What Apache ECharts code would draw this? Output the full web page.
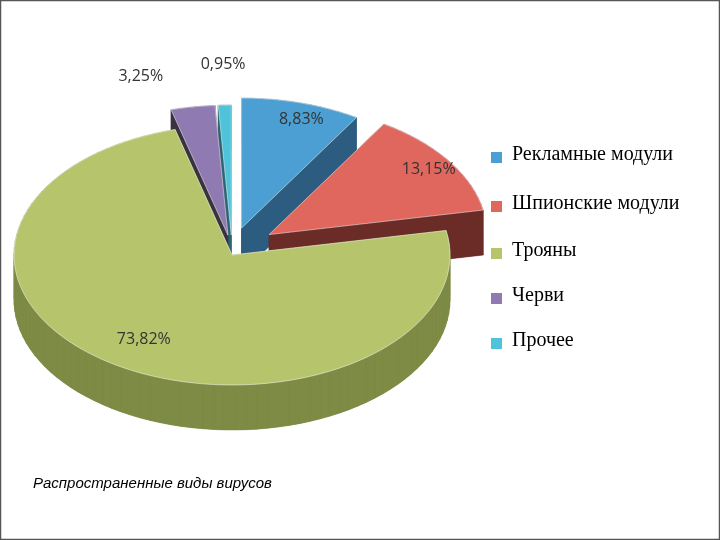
<!DOCTYPE html>
<html>
  <head>
    <meta charset="utf-8">
    <title>ECharts</title>
    <script src="https://cdn.jsdelivr.net/npm/echarts@6/dist/echarts.min.js"></script>
    <style>
      body { margin: 0; background: #fff; }
    </style>
  </head>
  <body>
    <div id="main" style="width: 720px;height:540px;"></div>
    <script type="text/javascript">
      // данные
      var categories = ['Рекламные модули', 'Шпионские модули', 'Трояны', 'Черви', 'Прочее'];
      var values = [8.83, 13.15, 73.82, 3.25, 0.95];

      var topColors = ['#4b9fd2', '#e0675e', '#b6c46c', '#8f7ab2', '#4fc3da'];
      var sideColors = ['#2c5d80', '#6b2b26', '#7d8b45', '#38333f', '#2a6676'];
      var explode = [35, 45, 0, 25, 25];
      // [радиус, dx, dy] для подписи
      var labelPos = [[0.75, 15, -15], [0.75, 25, -10], [0.72, -5, 5], [1.2, -45, -5], [1.25, 0, -8]];

      var cx = 232, cy = 255, rx = 218, ry = 130, depth = 45;
      var total = values.reduce(function (a, b) { return a + b }, 0);

      function fmt(v) { return v.toFixed(2).replace('.', ',') + '%' }

      var myChart = echarts.init(document.getElementById('main'));

      function renderItem(params, api) {
        var i = params.dataIndex;
        var start = 0;
        for (var k = 0; k < i; k++) start += values[k];
        var a0 = start / total * Math.PI * 2;
        var a1 = (start + api.value(1)) / total * Math.PI * 2;
        var mid = (a0 + a1) / 2;
        var ox = cx + Math.sin(mid) * explode[i];
        var oy = cy - Math.cos(mid) * explode[i] * 0.8;

        var pts = [[ox, oy]];
        var n = Math.max(4, Math.ceil((a1 - a0) / 0.05));
        for (var s = 0; s <= n; s++) {
          var a = a0 + (a1 - a0) * s / n;
          pts.push([ox + rx * Math.sin(a), oy - ry * Math.cos(a)]);
        }
        var base = (2 - Math.cos(mid)) * 1000;
        var children = [];
        children.push({
          type: 'polygon', z2: base,
          shape: { points: pts.map(function (p) { return [p[0], p[1] + depth] }) },
          style: { fill: sideColors[i] }
        });
        var quads = [];
        for (var j = 0; j < pts.length; j++) {
          var p = pts[j], q = pts[(j + 1) % pts.length];
          quads.push({
            y: (p[1] + q[1]) / 2,
            pts: [p, q, [q[0], q[1] + depth], [p[0], p[1] + depth]]
          });
        }
        quads.sort(function (a, b) { return a.y - b.y });
        quads.forEach(function (qd, m) {
          children.push({
            type: 'polygon', z2: base + 1 + m * 0.001,
            shape: { points: qd.pts },
            style: { fill: sideColors[i], stroke: sideColors[i], lineWidth: 0.5 }
          });
        });
        children.push({
          type: 'polygon', z2: base + 2,
          shape: { points: pts },
          style: { fill: topColors[i], stroke: 'rgba(255,255,255,0.5)', lineWidth: 1 }
        });
        var lp = labelPos[i];
        children.push({
          type: 'text', z2: 9000,
          x: ox + Math.sin(mid) * rx * lp[0] + lp[1],
          y: oy - Math.cos(mid) * ry * lp[0] + lp[2],
          style: {
            text: fmt(api.value(1)), fill: '#333', fontSize: 16,
            fontFamily: 'Open Sans', align: 'center', verticalAlign: 'middle'
          }
        });
        return { type: 'group', children: children };
      }

      var graphics = [{
        type: 'rect', shape: { x: 0.5, y: 0.5, width: 719, height: 539 },
        style: { fill: 'none', stroke: '#555', lineWidth: 1.5 }
      }, {
        type: 'text', left: 33, top: 476,
        style: { text: 'Распространенные виды вирусов', fontSize: 15, fontStyle: 'italic', fontFamily: 'Liberation Sans', fill: '#000' }
      }];
      var legendY = [157, 206, 253, 298, 343];
      categories.forEach(function (c, i) {
        graphics.push({
          type: 'rect', shape: { x: 491, y: legendY[i] - 5, width: 11, height: 11 },
          style: { fill: topColors[i] }
        });
        graphics.push({
          type: 'text', x: 512, y: legendY[i] - 12,
          style: { text: c, fontSize: 20, fontFamily: 'Liberation Serif', fill: '#000' }
        });
      });

      var option = {
        animation: false,
        xAxis: { show: false, min: 0, max: 1 },
        yAxis: { show: false, min: 0, max: 1 },
        graphic: graphics,
        series: [{
          type: 'custom',
          renderItem: renderItem,
          data: values.map(function (v, i) { return [i, v] })
        }]
      };

      myChart.setOption(option);
    </script>
  </body>
</html>
